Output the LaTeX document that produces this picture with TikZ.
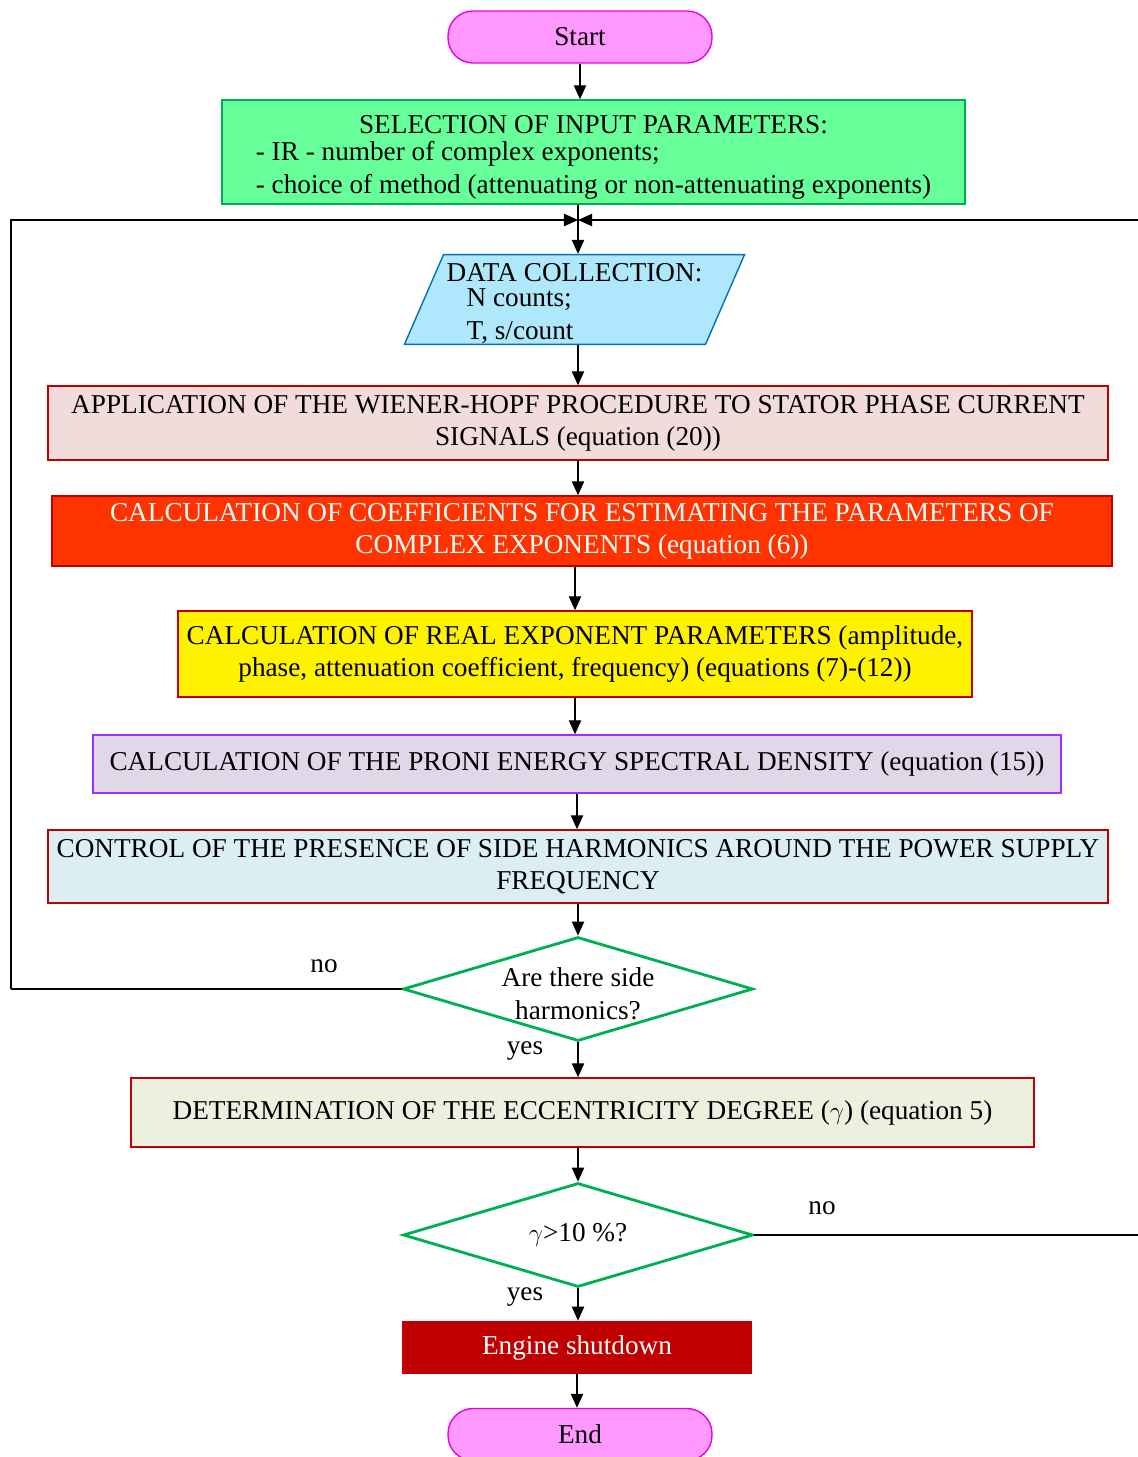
\documentclass[tikz,border=0pt]{standalone}
\usepackage{fontspec}
\setmainfont{Liberation Serif}
\usetikzlibrary{arrows.meta}
\usetikzlibrary{positioning}
\usetikzlibrary{shapes.geometric}

\definecolor{startfill}{HTML}{FF99FF}
\definecolor{startline}{HTML}{E600E6}
\definecolor{selfill}{HTML}{66FF99}
\definecolor{okgreen}{HTML}{00B050}
\definecolor{datafill}{HTML}{AFE8FC}
\definecolor{dataline}{HTML}{0070C0}
\definecolor{boxred}{HTML}{C00000}
\definecolor{whfill}{HTML}{F2DCDB}
\definecolor{coeffill}{HTML}{FF3300}
\definecolor{psdfill}{HTML}{E0D8E8}
\definecolor{psdline}{HTML}{9933FF}
\definecolor{ctrlfill}{HTML}{DAEEF3}
\definecolor{eccfill}{HTML}{EBF1DE}

% lower a block without changing its size
\newcommand{\lowertext}[1]{\raisebox{-2.8pt}[\height][\depth]{#1}}

\tikzset{
  every node/.style={font=\fontsize{15.5}{18.2}\selectfont, inner sep=0pt},
  terminal/.style={draw=startline, fill=startfill, line width=0.8pt, rounded corners=0.5cm,
    minimum width=5.28cm, minimum height=1.04cm},
  procbox/.style={draw=boxred, line width=0.8pt, align=center},
  decision/.style={diamond, draw=okgreen, fill=white, line width=1.6pt, aspect=3.4,
    minimum width=7cm, minimum height=2.08cm},
  arr/.style={-{Triangle[length=8pt,width=7pt]}, line width=0.8pt},
  link/.style={line width=0.8pt},
}

\begin{document}
\begin{tikzpicture}[x=0.02cm,y=-0.02cm]
    \useasboundingbox (0,0) rectangle (1137,1457);
    \node[terminal] (start) at (580,37) {Start};
    \node[draw=okgreen, fill=selfill, line width=0.8pt, minimum width=14.86cm, minimum height=2.08cm] (sel) at (593.5,152)
        {\lowertext{\begin{tabular}{@{}l@{}}\multicolumn{1}{@{}c@{}}{SELECTION OF INPUT PARAMETERS:}\\[-2.5pt]
         - IR - number of complex exponents;\\[0.5pt]
         - choice of method (attenuating or non-attenuating exponents)\end{tabular}}};
    \node[trapezium, trapezium left angle=67, trapezium right angle=113, trapezium stretches=true,
        draw=dataline, fill=datafill, line width=0.8pt, minimum width=6.82cm, minimum height=1.74cm] (data) at (574.5,299.5)
        {\lowertext{\begin{tabular}{@{}l@{}}DATA COLLECTION:\\[-4pt]
         \hspace*{0.4cm}N counts;\\[0.5pt]
         \hspace*{0.4cm}T, s/count\end{tabular}}};
    \node[procbox, fill=whfill, minimum width=21.2cm, minimum height=1.48cm] (wh) at (578,423)
        {APPLICATION OF THE WIENER-HOPF PROCEDURE TO STATOR PHASE CURRENT\\SIGNALS (equation (20))};
    \node[procbox, fill=coeffill, text=white, minimum width=21.2cm, minimum height=1.4cm] (coef) at (582,531)
        {CALCULATION OF COEFFICIENTS FOR ESTIMATING THE PARAMETERS OF\\COMPLEX EXPONENTS (equation (6))};
    \node[procbox, fill=yellow, minimum width=15.88cm, minimum height=1.72cm] (real) at (575,654)
        {CALCULATION OF REAL EXPONENT PARAMETERS (amplitude,\\phase, attenuation coefficient, frequency) (equations (7)-(12))};
    \node[procbox, draw=psdline, fill=psdfill, minimum width=19.36cm, minimum height=1.16cm] (psd) at (577,764)
        {CALCULATION OF THE PRONI ENERGY SPECTRAL DENSITY (equation (15))};
    \node[procbox, fill=ctrlfill, minimum width=21.2cm, minimum height=1.46cm] (ctrl) at (578,866.5)
        {CONTROL OF THE PRESENCE OF SIDE HARMONICS AROUND THE POWER SUPPLY\\FREQUENCY};
    \node[decision] (side) at (578,989)
        {\raisebox{-7.8pt}[0pt][0pt]{\begin{tabular}{@{}c@{}}Are there side\\[0.8pt]harmonics?\end{tabular}}};
    \node[procbox, fill=eccfill, minimum width=18.06cm, minimum height=1.38cm] (ecc) at (582.5,1112.5)
        {DETERMINATION OF THE ECCENTRICITY DEGREE ($\gamma$) (equation 5)};
    \node[decision] (gam) at (578,1235) {$\gamma$>10 \%?};
    \node[fill=boxred, text=white, minimum width=7cm, minimum height=1.06cm] (stop) at (577,1347.5) {Engine shutdown};
    \node[terminal] (end) at (580,1434.5) {End};
    % labels
    \node (no1) at (324,966) {no};
    \node (yes1) at (525,1051) {yes};
    \node (no2) at (822,1208) {no};
    \node (yes2) at (525,1297) {yes};
    % connectors
    \coordinate (join) at (578,220);
    \coordinate (lft) at (11,989);
    \coordinate (rgt) at (1141,1235);
    \draw[arr] (start.south) -- (start.south |- sel.north);
    \draw[link] (sel.south -| join) -- (join);
    \draw[arr] (join) -- (join |- data.north);
    \draw[arr] (data.south -| wh.north) -- (wh.north);
    \draw[arr] (wh.south) -- (wh.south |- coef.north);
    \draw[arr] (real.north |- coef.south) -- (real.north);
    \draw[arr] (real.south) -- (real.south |- psd.north);
    \draw[arr] (psd.south) -- (psd.south |- ctrl.north);
    \draw[arr] (ctrl.south) -- (side.north);
    \draw[arr] (side.south) -- (side.south |- ecc.north);
    \draw[arr] (side.south |- ecc.south) -- (gam.north);
    \draw[arr] (gam.south) -- (gam.south |- stop.north);
    \draw[arr] (stop.south) -- (stop.south |- end.north);
    \draw[link] (side.west) -- (lft);
    \draw[arr] (lft) |- (join);
    \draw[arr] (gam.east) -- (rgt) |- (join);
\end{tikzpicture}
\end{document}
